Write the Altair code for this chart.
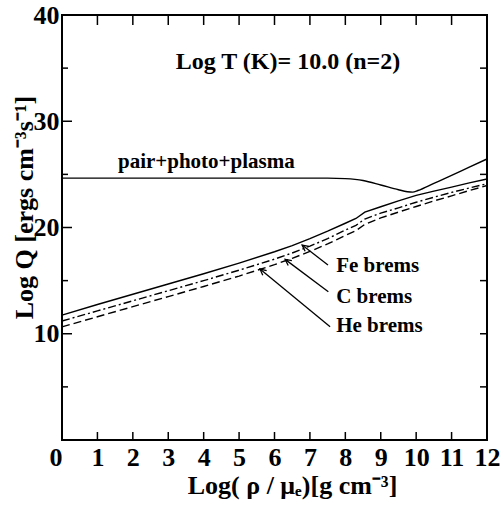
import math
import altair as alt
import pandas as pd

# Bremsstrahlung emissivity vs density (same density grid for all three ions)
rho = [0, 1, 2, 3, 4, 5, 6, 6.5, 7, 7.5, 8, 8.3, 8.55, 9, 9.5, 10, 10.5, 11, 11.5, 12]
fe_brems = [11.75, 12.75, 13.72, 14.68, 15.65, 16.65, 17.72, 18.3, 18.95, 19.65,
            20.4, 20.85, 21.45, 21.95, 22.5, 23.03, 23.43, 23.8, 24.2, 24.57]
c_brems = [11.2, 12.15, 13.1, 14.05, 15.0, 15.98, 17.02, 17.6, 18.25, 18.95,
           19.75, 20.2, 20.8, 21.35, 21.85, 22.38, 22.85, 23.3, 23.72, 24.12]
he_brems = [10.65, 11.6, 12.55, 13.5, 14.45, 15.43, 16.5, 17.1, 17.75, 18.45,
            19.25, 19.7, 20.3, 20.9, 21.45, 21.98, 22.5, 22.98, 23.48, 23.95]

# pair + photo + plasma neutrino losses
pair_rho = [0, 7.5, 8, 8.5, 9, 9.5, 9.75, 9.9, 10.05, 10.5, 11, 11.5, 12]
pair_q = [24.65, 24.65, 24.6, 24.42, 24.0, 23.55, 23.37, 23.33, 23.48, 24.15,
          24.9, 25.68, 26.45]

# axis tick values
x_labels = list(range(0, 13))
x_ticks = list(range(1, 12))
y_labels = [10, 20, 30, 40]
y_major = [10, 20, 30]
y_minor = [5, 15, 25, 35]
y_right = [5, 10, 15, 20, 25, 30, 35]

# arrow annotations: label, tail and tip
arrow_labels = ["Fe brems", "C brems", "He brems"]
arrow_tail_rho = [7.51, 7.52, 7.57]
arrow_tail_q = [16.47, 13.96, 10.66]
arrow_tip_rho = [6.78, 6.30, 5.59]
arrow_tip_q = [18.35, 17.0, 16.09]
label_rho = [7.74, 7.74, 7.74]
label_q = [16.38, 13.46, 10.73]

W, H = 425, 425
X_MAX, Y_MAX = 12, 40
FONT = "Liberation Serif"

xs = alt.Scale(domain=[0, X_MAX], nice=False, zero=False)
ys = alt.Scale(domain=[0, Y_MAX], nice=False, zero=False)

x_axis = alt.Axis(
    values=x_labels, title="Log( ρ / μₑ)[g cm⁻³]", grid=False, domain=False, ticks=False,
    labelPadding=4, labelFlush=False,
    labelAlign={"condition": {"test": "datum.value === 0", "value": "right"}, "value": "center"},
    titleX=230, titleY=53, titleBaseline="alphabetic", titleAlign="center",
)
y_axis = alt.Axis(
    values=y_labels, title="Log Q [ergs cm⁻³s⁻¹]", grid=False, domain=False, ticks=False,
    labelPadding=3, labelFlush=False,
    titleX=-30, titleY=192, titleAngle=270, titleBaseline="alphabetic", titleAlign="center",
)


def X():
    return alt.X("rho:Q", scale=xs, axis=x_axis)


def Y():
    return alt.Y("q:Q", scale=ys, axis=y_axis)


def series(xv, yv):
    return pd.DataFrame({"rho": xv, "q": yv})


line_w = 1.4
fe = alt.Chart(series(rho, fe_brems)).mark_line(color="black", strokeWidth=line_w).encode(x=X(), y=Y())
c = alt.Chart(series(rho, c_brems)).mark_line(
    color="black", strokeWidth=line_w, strokeDash=[8, 3, 2, 3]).encode(x=X(), y=Y())
he = alt.Chart(series(rho, he_brems)).mark_line(
    color="black", strokeWidth=line_w, strokeDash=[8, 4]).encode(x=X(), y=Y())
pair = alt.Chart(series(pair_rho, pair_q)).mark_line(
    color="black", strokeWidth=line_w, interpolate="monotone").encode(x=X(), y=Y())

# inward ticks on all four sides
tick_style = dict(color="black", strokeWidth=1.5)
bottom_ticks = alt.Chart(pd.DataFrame({"rho": x_ticks})).mark_rule(**tick_style).encode(
    x=X(), y=alt.value(H), y2=alt.value(H - 8))
top_ticks = alt.Chart(pd.DataFrame({"rho": x_ticks})).mark_rule(**tick_style).encode(
    x=X(), y=alt.value(0), y2=alt.value(10))
left_major = alt.Chart(pd.DataFrame({"q": y_major})).mark_rule(**tick_style).encode(
    y=Y(), x=alt.value(0), x2=alt.value(10))
left_minor = alt.Chart(pd.DataFrame({"q": y_minor})).mark_rule(**tick_style).encode(
    y=Y(), x=alt.value(0), x2=alt.value(6))
right_ticks = alt.Chart(pd.DataFrame({"q": y_right})).mark_rule(**tick_style).encode(
    y=Y(), x=alt.value(W), x2=alt.value(W - 7))

# arrows pointing from the labels to the brems curves
sx, sy = W / X_MAX, H / Y_MAX
angles = [
    (math.degrees(math.atan2((tx - bx) * sx, (ty - by) * sy)) + 360) % 360
    for bx, by, tx, ty in zip(arrow_tail_rho, arrow_tail_q, arrow_tip_rho, arrow_tip_q)
]
arrows_df = pd.DataFrame({
    "rho": arrow_tail_rho, "q": arrow_tail_q,
    "rho2": arrow_tip_rho, "q2": arrow_tip_q,
})
arrow_lines = alt.Chart(arrows_df).mark_rule(color="black", strokeWidth=1.3).encode(
    x=X(), y=Y(), x2="rho2:Q", y2="q2:Q")
heads_df = pd.DataFrame({"rho": arrow_tip_rho, "q": arrow_tip_q, "angle": angles})
arrow_heads = alt.Chart(heads_df).mark_point(
    shape="M-0.5,1L0,0L0.5,1", filled=False, color="black", strokeWidth=1.3, size=150, opacity=1
).encode(x=X(), y=Y(), angle=alt.Angle("angle:Q", scale=None))

labels_df = pd.DataFrame({"rho": label_rho, "q": label_q, "label": arrow_labels})
arrow_text = alt.Chart(labels_df).mark_text(
    align="left", baseline="middle", font=FONT, fontSize=21, fontWeight="bold", color="black"
).encode(x=X(), y=Y(), text="label:N")

pair_text = alt.Chart(pd.DataFrame({"rho": [1.58], "q": [25.6], "label": ["pair+photo+plasma"]})).mark_text(
    align="left", baseline="alphabetic", font=FONT, fontSize=21, fontWeight="bold", color="black"
).encode(x=X(), y=Y(), text="label:N")

header = alt.Chart(pd.DataFrame({"rho": [6.38], "q": [34.9], "label": ["Log T (K)= 10.0 (n=2)"]})).mark_text(
    align="center", baseline="alphabetic", font=FONT, fontSize=24, fontWeight="bold", color="black"
).encode(x=X(), y=Y(), text="label:N")

chart = alt.layer(
    pair, fe, c, he,
    bottom_ticks, top_ticks, left_major, left_minor, right_ticks,
    arrow_lines, arrow_heads, arrow_text, pair_text, header,
).properties(
    width=W, height=H,
    autosize=alt.AutoSizeParams(type="none"),
    padding={"left": 62, "top": 15, "right": 13, "bottom": 68},
    background="white",
).configure_view(
    stroke="black", strokeWidth=2
).configure_axis(
    labelFont=FONT, labelFontSize=26, labelFontWeight="bold", labelColor="black",
    titleFont=FONT, titleFontSize=26, titleFontWeight="bold", titleColor="black",
)

chart.save("out.html", embed_options={"renderer": "svg", "actions": False})
